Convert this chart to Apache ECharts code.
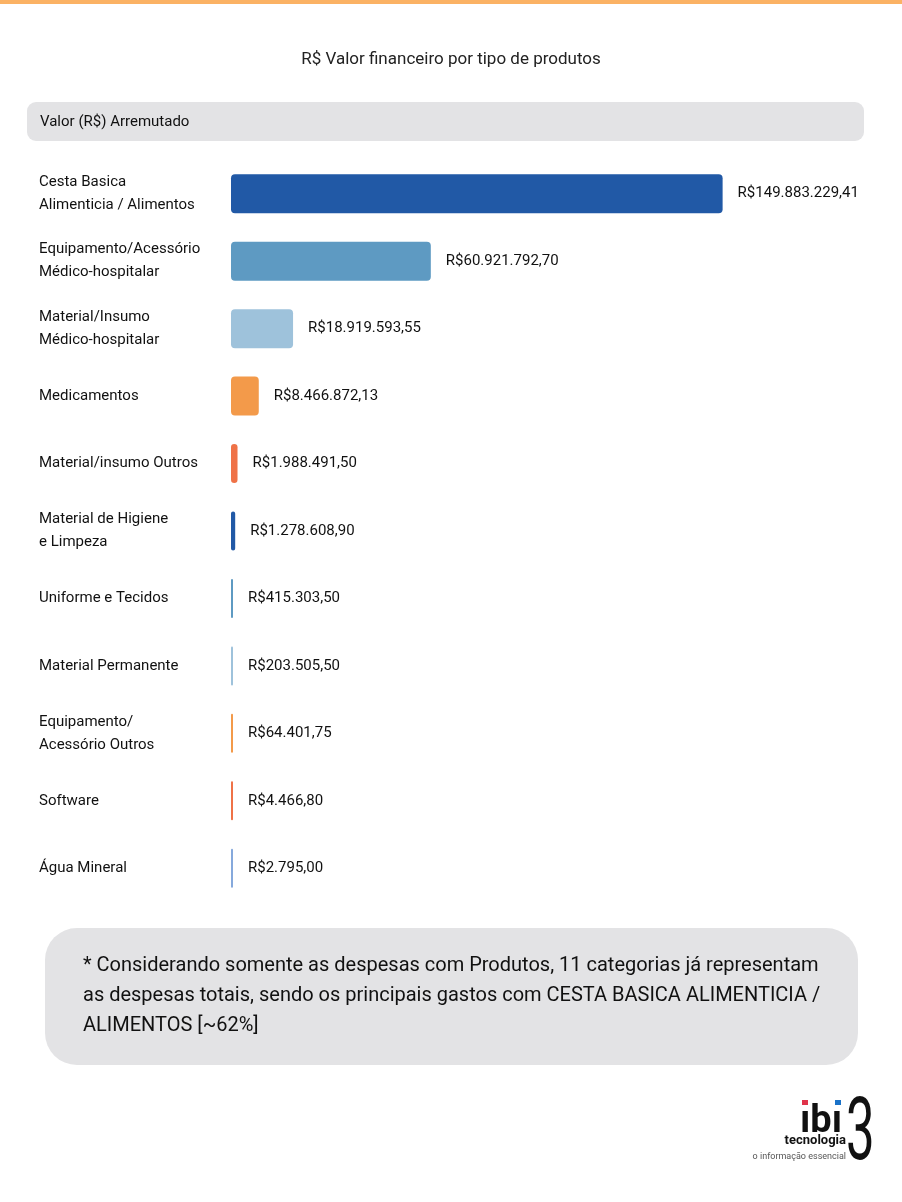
<!DOCTYPE html>
<html>
<head>
<meta charset="utf-8">
<script src="https://cdn.jsdelivr.net/npm/echarts@6/dist/echarts.min.js"></script>
<style>
html,body{margin:0;padding:0;background:#fff;}
#chart{width:902px;height:1202px;}
</style>
</head>
<body>
<div id="chart"></div>
<script>
const categories = [
  'Cesta Basica\nAlimenticia / Alimentos',
  'Equipamento/Acessório\nMédico-hospitalar',
  'Material/Insumo\nMédico-hospitalar',
  'Medicamentos',
  'Material/insumo Outros',
  'Material de Higiene\ne Limpeza',
  'Uniforme e Tecidos',
  'Material Permanente',
  'Equipamento/\nAcessório Outros',
  'Software',
  'Água Mineral'
];
const values = [149883229.41, 60921792.70, 18919593.55, 8466872.13, 1988491.50, 1278608.90, 415303.50, 203505.50, 64401.75, 4466.80, 2795.00];
const barColors = ['#2159A6', '#5E9AC2', '#9EC2DB', '#F39A4A', '#EF7247', '#2159A6', '#5E9AC2', '#9EC2DB', '#F39A4A', '#EF7247', '#86A9DC'];
const titleText = 'R$ Valor financeiro por tipo de produtos';
const headerText = 'Valor (R$) Arremutado';
const noteLines = [
  '* Considerando somente as despesas com Produtos, 11 categorias já representam',
  'as despesas totais, sendo os principais gastos com CESTA BASICA ALIMENTICIA /',
  'ALIMENTOS [~62%]'
];

const FONT = "Roboto, 'Liberation Sans', sans-serif";

function brl(v) {
  const parts = v.toFixed(2).split('.');
  const intPart = parts[0].replace(/\B(?=(\d{3})+(?!\d))/g, '.');
  return 'R$' + intPart + ',' + parts[1];
}

const chart = echarts.init(document.getElementById('chart'), null, {renderer: 'canvas'});

chart.setOption({
  backgroundColor: '#ffffff',
  animation: false,
  textStyle: {fontFamily: FONT},
  grid: {left: 231, right: 179, top: 160, bottom: 300, containLabel: false},
  xAxis: {
    type: 'value', min: 0, max: 150000000, show: false
  },
  yAxis: {
    type: 'category',
    data: categories,
    inverse: true,
    axisLine: {show: false},
    axisTick: {show: false},
    splitLine: {show: false},
    axisLabel: {
      align: 'left',
      margin: 192,
      fontFamily: FONT,
      fontSize: 15,
      lineHeight: 23,
      color: '#111111'
    }
  },
  series: [{
    type: 'bar',
    data: values.map((v, i) => ({value: v, itemStyle: {color: barColors[i]}})),
    barWidth: 39,
    barMinHeight: 2,
    itemStyle: {borderRadius: 4},
    label: {
      show: true,
      position: 'right',
      distance: 15,
      fontFamily: FONT,
      fontSize: 15,
      color: '#111111',
      formatter: p => brl(p.value)
    }
  }],
  graphic: [
    {type: 'rect', left: 0, top: 0, shape: {width: 902, height: 4}, style: {fill: '#FBB264'}},
    {type: 'text', x: 451, y: 60, style: {text: titleText, font: '17px ' + FONT, fill: '#222', align: 'center', verticalAlign: 'middle'}},
    {type: 'rect', shape: {x: 27, y: 102, width: 837, height: 39, r: 9}, style: {fill: '#E3E3E5'}},
    {type: 'text', x: 40, y: 122, style: {text: headerText, font: '15px ' + FONT, fill: '#111', verticalAlign: 'middle'}},
    {type: 'rect', shape: {x: 45, y: 928, width: 813, height: 137, r: 32}, style: {fill: '#E3E3E5'}},
    {type: 'text', x: 83, y: 966, style: {text: noteLines[0], font: '20px ' + FONT, fill: '#111', verticalAlign: 'middle'}},
    {type: 'text', x: 83, y: 996, style: {text: noteLines[1], font: '20px ' + FONT, fill: '#111', verticalAlign: 'middle'}},
    {type: 'text', x: 83, y: 1026, style: {text: noteLines[2], font: '20px ' + FONT, fill: '#111', verticalAlign: 'middle'}},
    // logo
    {type: 'text', x: 800, y: 1141, style: {text: 'ıbı', font: 'bold 38px ' + FONT, fill: '#111', verticalAlign: 'bottom'}},
    {type: 'rect', shape: {x: 802, y: 1100, width: 6, height: 5}, style: {fill: '#E0334A'}},
    {type: 'rect', shape: {x: 835, y: 1100, width: 6, height: 5}, style: {fill: '#1A72C8'}},
    {type: 'text', x: 846, y: 1094, scaleX: 0.85, scaleY: 1.45, style: {text: '3', font: '60px ' + FONT, fill: '#111', verticalAlign: 'top'}},
    {type: 'text', x: 846, y: 1141, style: {text: 'tecnologia', font: 'bold 13px ' + FONT, fill: '#111', align: 'right', verticalAlign: 'middle'}},
    {type: 'text', x: 846, y: 1157, style: {text: 'o informação essencial', font: '9px ' + FONT, fill: '#555', align: 'right', verticalAlign: 'middle'}}
  ]
});
</script>
</body>
</html>
